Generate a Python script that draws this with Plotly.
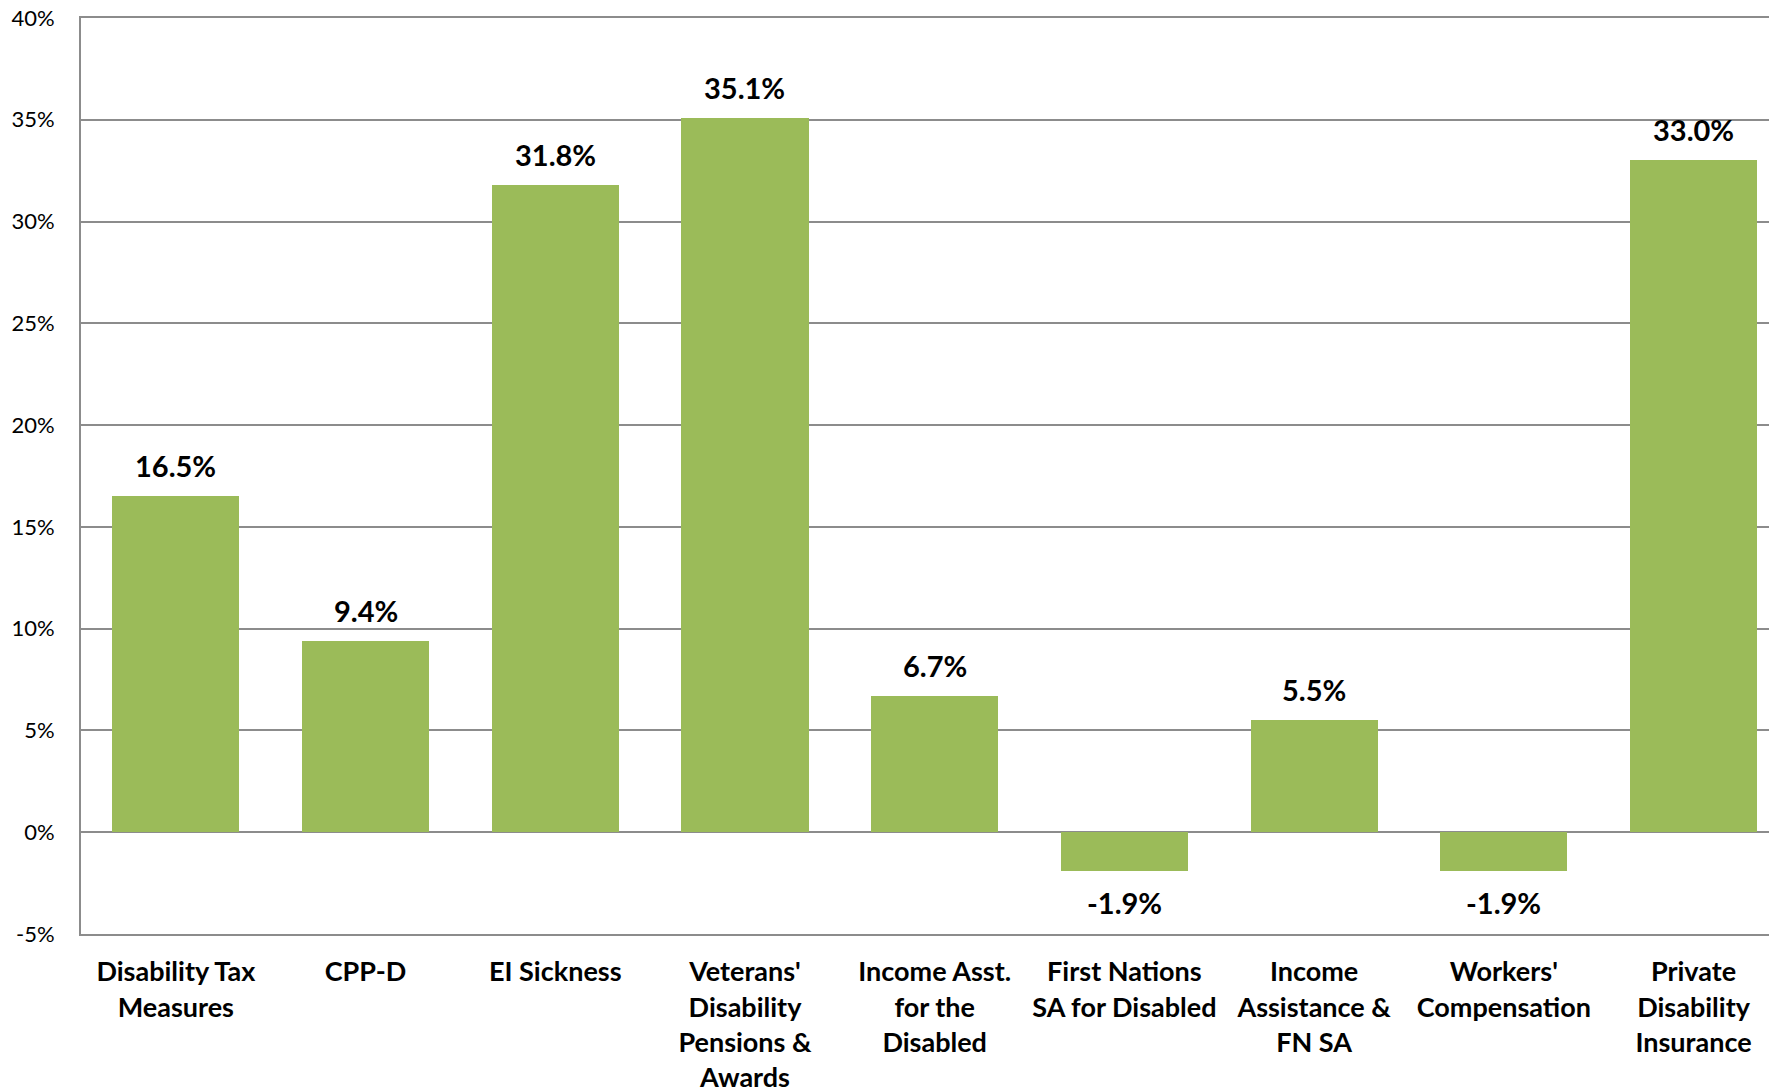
import plotly.graph_objects as go

categories = [
    "Disability Tax<br>Measures",
    "CPP-D",
    "EI Sickness",
    "Veterans'<br>Disability<br>Pensions &<br>Awards",
    "Income Asst.<br>for the<br>Disabled",
    "First Nations<br>SA for Disabled",
    "Income<br>Assistance &<br>FN SA",
    "Workers'<br>Compensation",
    "Private<br>Disability<br>Insurance",
]
values = [16.5, 9.4, 31.8, 35.1, 6.7, -1.9, 5.5, -1.9, 33.0]
labels = ["16.5%", "9.4%", "31.8%", "35.1%", "6.7%", "-1.9%", "5.5%", "-1.9%", "33.0%"]
y_ticks = [-5, 0, 5, 10, 15, 20, 25, 30, 35, 40]

GRID = "#8c8c8c"
BAR = "#9BBB59"
FONT = "Lato"

fig = go.Figure()
fig.add_trace(go.Bar(
    x=list(range(len(categories))),
    y=values,
    marker=dict(color=BAR, line=dict(width=0)),
    width=0.67,
    hoverinfo="skip",
))

for i, (v, t) in enumerate(zip(values, labels)):
    fig.add_annotation(
        x=i, y=v, text="<b>%s</b>" % t, showarrow=False,
        yanchor="bottom" if v >= 0 else "top",
        yshift=11 if v >= 0 else -12,
        font=dict(family=FONT, size=29, color="#000000"),
    )

fig.update_layout(
    width=1769, height=1081,
    margin=dict(l=73, r=0, t=10, b=155),
    paper_bgcolor="white", plot_bgcolor="white",
    showlegend=False,
    font=dict(family=FONT, color="#000000"),
    bargap=0,
)
fig.update_xaxes(
    range=[-0.5, 8.44],
    tickmode="array",
    tickvals=list(range(len(categories))),
    ticktext=["<b>%s</b>" % c for c in categories],
    tickfont=dict(family=FONT, size=27, color="#000000"),
    showgrid=False, zeroline=False,
    showline=True, linecolor=GRID, linewidth=2, mirror=True,
    ticks="", ticklabelstandoff=13,
    ticklabeloverflow="allow",
    automargin=False,
    fixedrange=True,
)
fig.update_yaxes(
    range=[-5, 40],
    tickmode="array",
    tickvals=y_ticks,
    ticktext=["%d%%" % v for v in y_ticks],
    tickfont=dict(family=FONT, size=22, color="#000000"),
    showgrid=True, gridcolor=GRID, gridwidth=2,
    zeroline=True, zerolinecolor=GRID, zerolinewidth=2,
    showline=True, linecolor=GRID, linewidth=2,
    ticks="", ticklabelstandoff=20,
    ticklabeloverflow="allow",
    automargin=False,
    fixedrange=True,
)

fig.write_html("out.html")
